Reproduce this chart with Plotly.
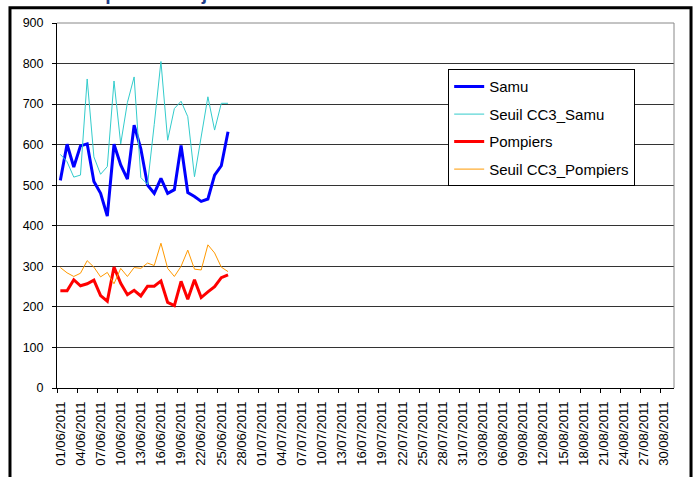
import pandas as pd
import plotly.graph_objects as go

# Daily axis covers the whole summer; observations start on 1 June
axis_days = pd.date_range("2011-06-01", "2011-08-31", freq="D")
obs_days = pd.date_range("2011-06-01", periods=26, freq="D")

samu = [512, 601, 545, 597, 602, 509, 480, 424, 601, 550, 515, 648, 590,
        500, 480, 517, 480, 489, 598, 482, 472, 460, 466, 525, 548, 632]
seuil_samu = [576, 558, 520, 525, 762, 570, 527, 546, 757, 602, 704, 767, 519,
              502, 650, 805, 611, 689, 707, 669, 521, 615, 718, 636, 702, 702]
pompiers = [240, 240, 267, 252, 257, 266, 228, 214, 298, 258, 230, 241, 227,
            251, 251, 264, 211, 203, 263, 219, 267, 223, 237, 250, 272, 279]
seuil_pompiers = [297, 284, 275, 283, 314, 298, 274, 285, 257, 295, 275, 297, 295,
                  308, 302, 357, 295, 275, 300, 340, 293, 291, 353, 333, 298, 287]

label_days = axis_days[::3]
tick_labels = [d.strftime("%d/%m/%Y") for d in label_days]
half_day = pd.Timedelta(hours=12)
x_range = [axis_days[0] - half_day, axis_days[-1] + half_day]
tick_marks = [d - half_day for d in label_days]
y_range = [0, 900]

FONT = "Liberation Sans, Arial, sans-serif"

series = [
    ("Samu", samu, "#0000FF", 3),
    ("Seuil CC3_Samu", seuil_samu, "#33CCCC", 1),
    ("Pompiers", pompiers, "#FF0000", 3),
    ("Seuil CC3_Pompiers", seuil_pompiers, "#FF9900", 1),
]

fig = go.Figure()
for name, values, color, width in series:
    fig.add_trace(go.Scatter(
        x=obs_days, y=values, name=name, mode="lines",
        line=dict(color=color, width=width),
        legendgroup=name,
    ))

fig.update_layout(
    width=698, height=477,
    margin=dict(l=57, r=24, t=23, b=89),
    paper_bgcolor="white", plot_bgcolor="white",
    font=dict(family=FONT, color="black"),
    showlegend=True,
    legend=dict(
        x=0.634, y=0.873, xanchor="left", yanchor="top",
        bgcolor="white", bordercolor="black", borderwidth=1,
        font=dict(size=15, family=FONT),
        tracegroupgap=5, itemwidth=30,
    ),
    # tick marks sit on day boundaries, labels on the day itself
    xaxis=dict(
        type="date", range=x_range, tickmode="array", tickvals=tick_marks,
        showticklabels=False, ticks="outside", ticklen=4, tickcolor="black",
        showline=True, linecolor="black", linewidth=1, showgrid=False,
        zeroline=False,
    ),
    xaxis2=dict(
        type="date", range=x_range, overlaying="x", anchor="y", side="bottom",
        tickmode="array", tickvals=list(label_days), ticktext=tick_labels,
        tickangle=-90, ticks="", showline=False, showgrid=False, zeroline=False,
        tickfont=dict(size=13, family=FONT, color="black"),
        ticklabelstandoff=10,
    ),
    yaxis=dict(
        range=y_range, tickmode="linear", tick0=0, dtick=100,
        showgrid=True, gridcolor="#333333", gridwidth=1,
        showline=True, linecolor="black", linewidth=1,
        ticks="outside", ticklen=4, tickcolor="black",
        showticklabels=False, zeroline=False,
    ),
    # value labels, set a little further from the axis
    yaxis2=dict(
        range=y_range, overlaying="y", anchor="x", side="left",
        tickmode="linear", tick0=0, dtick=100,
        ticks="outside", ticklen=10, tickcolor="rgba(0,0,0,0)",
        showgrid=False, showline=False, zeroline=False,
        tickfont=dict(size=12.5, family=FONT, color="black"),
    ),
    shapes=[
        # grey plot-area border on the top and right sides
        dict(type="line", xref="paper", yref="paper", x0=0, x1=1, y0=1, y1=1,
             line=dict(color="#888888", width=1)),
        dict(type="line", xref="paper", yref="paper", x0=1, x1=1, y0=0, y1=1,
             line=dict(color="#888888", width=1)),
        # black frame around the whole chart
        dict(type="rect", xref="paper", yref="paper",
             x0=-0.0762, x1=1.0276, y0=-0.3, y1=1.0416,
             line=dict(color="black", width=3)),
    ],
    annotations=[
        dict(text="<b>Réalisés depuis le 1<sup>er</sup> juin 2011</b>",
             xref="paper", yref="paper", x=-0.099, y=1.086,
             xanchor="left", yanchor="middle", showarrow=False,
             font=dict(size=19.5, family=FONT, color="#1F3C88")),
    ],
)

# helper trace so the label axes are laid out
fig.add_trace(go.Scatter(x=[axis_days[0]], y=[0], xaxis="x2", yaxis="y2",
                         mode="markers", marker=dict(opacity=0),
                         showlegend=False, hoverinfo="skip"))

fig.write_html("out.html")
